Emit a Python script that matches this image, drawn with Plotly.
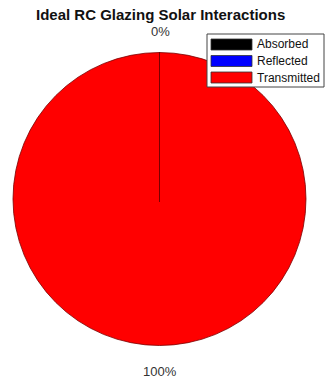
import math
import plotly.graph_objects as go

# ---- data ----
categories = ["Absorbed", "Reflected", "Transmitted"]
values = [0.0, 0.0, 1.0]
colors = ["#000000", "#0000ff", "#ff0000"]
title_text = "Ideal RC Glazing Solar Interactions"

W, H = 327, 385

# pie geometry (pixels)
left, right, top, bottom = 13, 306, 52, 346
cx, cy = (left + right) / 2, (top + bottom) / 2
r = min(right - left, bottom - top) / 2


def px(x):
    return x / W


def py(y):
    return 1 - y / H


fig = go.Figure()
fig.add_trace(go.Pie(
    labels=categories, values=values, sort=False, direction="clockwise",
    rotation=0, marker=dict(colors=colors, line=dict(color="#7a0000", width=0.8)),
    textinfo="none", hoverinfo="label+percent", showlegend=False,
    domain=dict(x=[px(left), px(right)], y=[py(bottom), py(top)]),
))

annotations = []
shapes = []
total = sum(values)
cum = 0.0
placed = {}
for cat, v in zip(categories, values):
    frac = v / total
    mid = math.radians(90 - 360 * (cum + frac / 2))
    f = 1.15 if math.sin(mid) > 0 else 1.175
    lx = cx + f * r * math.cos(mid)
    ly = cy - f * r * math.sin(mid)
    key = (round(lx), round(ly))
    # labels at the same spot print on top of each other; draw each once
    if key not in placed:
        placed[key] = f"{round(frac*100)}%"
    cum += frac

for (lx, ly), txt in placed.items():
    annotations.append(dict(
        x=px(lx), y=py(ly), xref="paper", yref="paper", text=txt,
        showarrow=False, xanchor="center", yanchor="middle",
        font=dict(family="Liberation Sans, Arial", size=13, color="#333333")))

# radial edge line at the start of the slices (top)
shapes.append(dict(type="line", xref="paper", yref="paper",
                   x0=px(cx), y0=py(cy + 3), x1=px(cx), y1=py(top),
                   line=dict(color="#7a0000", width=1)))

# legend box
lg_l, lg_t, lg_r, lg_b = 207, 34, 324, 87
shapes.append(dict(type="rect", xref="paper", yref="paper",
                   x0=px(lg_l), x1=px(lg_r), y0=py(lg_b), y1=py(lg_t),
                   line=dict(color="#444444", width=1), fillcolor="white"))
row_h = 16.5
for i, (cat, c) in enumerate(zip(categories, colors)):
    y0 = 39 + i * row_h
    shapes.append(dict(type="rect", xref="paper", yref="paper",
                       x0=px(211), x1=px(252), y0=py(y0 + 11), y1=py(y0),
                       line=dict(color="#333333", width=0.8), fillcolor=c))
    annotations.append(dict(x=px(255), y=py(y0 + 5.5), xref="paper", yref="paper",
                            text=cat, showarrow=False, xanchor="left", yanchor="middle",
                            font=dict(family="Liberation Sans, Arial", size=12, color="#111111")))

annotations.append(dict(x=px(160), y=py(14), xref="paper", yref="paper",
                        text=f"<b>{title_text}</b>", showarrow=False,
                        xanchor="center", yanchor="middle",
                        font=dict(family="Liberation Sans, Arial", size=15, color="#111111")))

fig.update_layout(width=W, height=H, margin=dict(l=0, r=0, t=0, b=0),
                  paper_bgcolor="white", plot_bgcolor="white",
                  annotations=annotations, shapes=shapes, showlegend=False)
fig.write_html("out.html")
